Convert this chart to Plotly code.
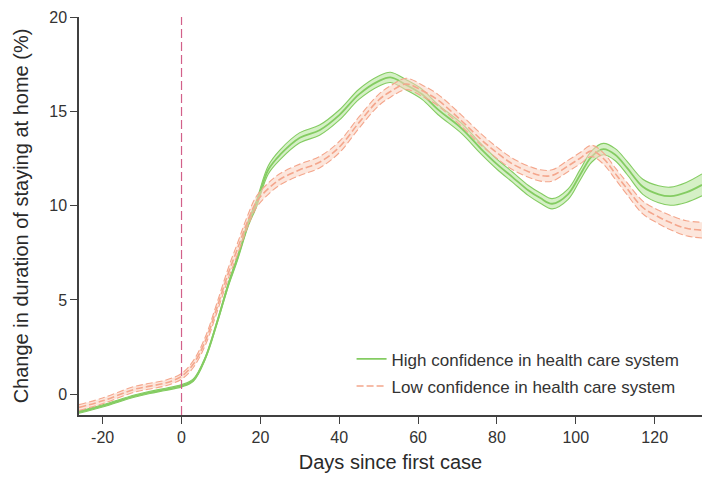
#!/usr/bin/env python3
"""
Change in time spent at home around the first case, split by confidence
in the health care system (high vs low), with confidence bands.
"""

import plotly.graph_objects as go

# days since first case (shared by both series)
days = [-26, -20, -12, -8, -4, 0, 3, 6, 9, 12, 14, 17, 19, 22, 25, 30, 35, 40,
        45, 50, 53, 57, 61, 65, 71, 76, 80, 84, 88, 91, 94, 98, 101, 104, 107,
        110, 113, 117, 121, 124, 128, 132]

high_mid = [-0.95, -0.62, -0.1, 0.1, 0.26, 0.45, 0.75, 1.9, 3.8, 5.9, 7.1, 9.1,
            10.1, 11.9, 12.7, 13.6, 14.0, 14.8, 15.9, 16.6, 16.8, 16.4, 15.9,
            15.1, 14.1, 13.0, 12.2, 11.5, 10.8, 10.4, 10.1, 10.6, 11.6, 12.6,
            13.0, 12.7, 12.0, 11.0, 10.6, 10.5, 10.7, 11.1]
high_ci = [0.06, 0.06, 0.06, 0.06, 0.06, 0.06, 0.06, 0.06, 0.08, 0.1, 0.12,
           0.15, 0.18, 0.22, 0.26, 0.27, 0.27, 0.27, 0.27, 0.27, 0.27, 0.27,
           0.27, 0.27, 0.27, 0.27, 0.27, 0.27, 0.27, 0.27, 0.27, 0.28, 0.28,
           0.3, 0.3, 0.32, 0.35, 0.4, 0.45, 0.48, 0.53, 0.58]

low_mid = [-0.7, -0.35, 0.26, 0.43, 0.6, 0.95, 1.6, 2.8, 4.6, 6.5, 7.6, 9.3,
           10.2, 10.9, 11.4, 11.9, 12.3, 13.1, 14.4, 15.6, 16.05, 16.45, 16.1,
           15.6, 14.5, 13.5, 12.8, 12.2, 11.8, 11.6, 11.6, 12.1, 12.5, 12.9,
           12.5, 11.7, 10.9, 9.9, 9.4, 9.1, 8.8, 8.7]
low_ci = [0.15, 0.15, 0.15, 0.15, 0.15, 0.15, 0.18, 0.22, 0.25, 0.28, 0.3, 0.3,
          0.3, 0.3, 0.3, 0.3, 0.3, 0.3, 0.3, 0.3, 0.3, 0.3, 0.3, 0.3, 0.3, 0.3,
          0.3, 0.3, 0.3, 0.3, 0.3, 0.3, 0.3, 0.3, 0.3, 0.3, 0.32, 0.34, 0.36,
          0.38, 0.4, 0.42]

x_ticks = [-20, 0, 20, 40, 60, 80, 100, 120]
x_labels = ["-20", "0", "20", "40", "60", "80", "100", "120"]
y_ticks = [0, 5, 10, 15, 20]

FONT = "Liberation Sans, Arial, sans-serif"
AXIS = "#404040"
TEXT = "#2a2a2a"


def add_band(fig, mid, ci, name, group, line_col, fill_col, dash, width):
    """Ribbon (upper/lower edges + fill) with the centre line on top."""
    upper = [m + c for m, c in zip(mid, ci)]
    lower = [m - c for m, c in zip(mid, ci)]
    edge = dict(color=line_col, width=1.1, dash=dash, shape="spline")
    fig.add_trace(go.Scatter(x=days, y=upper, mode="lines", line=edge,
                             legendgroup=group, showlegend=False,
                             hoverinfo="skip"))
    fig.add_trace(go.Scatter(x=days, y=lower, mode="lines", line=edge,
                             fill="tonexty", fillcolor=fill_col,
                             legendgroup=group, showlegend=False,
                             hoverinfo="skip"))
    fig.add_trace(go.Scatter(x=days, y=mid, mode="lines", name=name,
                             legendgroup=group,
                             line=dict(color=line_col, width=width, dash=dash,
                                       shape="spline")))


fig = go.Figure()
add_band(fig, high_mid, high_ci, "High confidence in health care system", "hi",
         "#84cc62", "rgba(185,230,160,0.6)", "solid", 1.8)
add_band(fig, low_mid, low_ci, "Low confidence in health care system", "lo",
         "#f4a68c", "rgba(250,210,192,0.55)", "7px,3px", 1.6)

# first case marker
fig.add_shape(type="line", x0=0, x1=0, y0=0, y1=1, xref="x", yref="paper",
              line=dict(color="#d2608a", width=1.2, dash="9px,4px"))

fig.update_layout(
    width=702, height=479,
    margin=dict(l=79, r=0, t=17, b=64),
    paper_bgcolor="white", plot_bgcolor="white",
    font=dict(family=FONT, size=16, color=TEXT),
    legend=dict(x=0.4375, y=0.185, xanchor="left", yanchor="top",
                bgcolor="rgba(0,0,0,0)", font=dict(size=17, color="#333"),
                traceorder="grouped", tracegroupgap=2, itemwidth=30),
)
fig.update_xaxes(
    range=[-26, 132], tickvals=x_ticks, ticktext=x_labels, showgrid=False,
    zeroline=False, showline=True, linecolor=AXIS, linewidth=1.5,
    ticks="outside", ticklen=7, tickcolor=AXIS, automargin=False,
    tickfont=dict(size=16, color="#333"),
    title=dict(text="Days since first case", font=dict(size=20, color=TEXT),
               standoff=10),
)
fig.update_yaxes(
    range=[-1.1, 20], tickvals=y_ticks, showgrid=False, zeroline=False,
    showline=True, linecolor=AXIS, linewidth=1.5, ticks="outside",
    ticklen=7, tickcolor=AXIS, automargin=False,
    tickfont=dict(size=16, color="#333"),
    title=dict(text="Change in duration of staying at home (%)",
               font=dict(size=20, color=TEXT), standoff=15),
)

# drop the page's default body margin so the figure sits at the window corner
fig.write_html(
    "out.html",
    config={"displayModeBar": False},
    post_script="document.body.style.margin='0';"
                "document.body.style.overflow='hidden';",
)
